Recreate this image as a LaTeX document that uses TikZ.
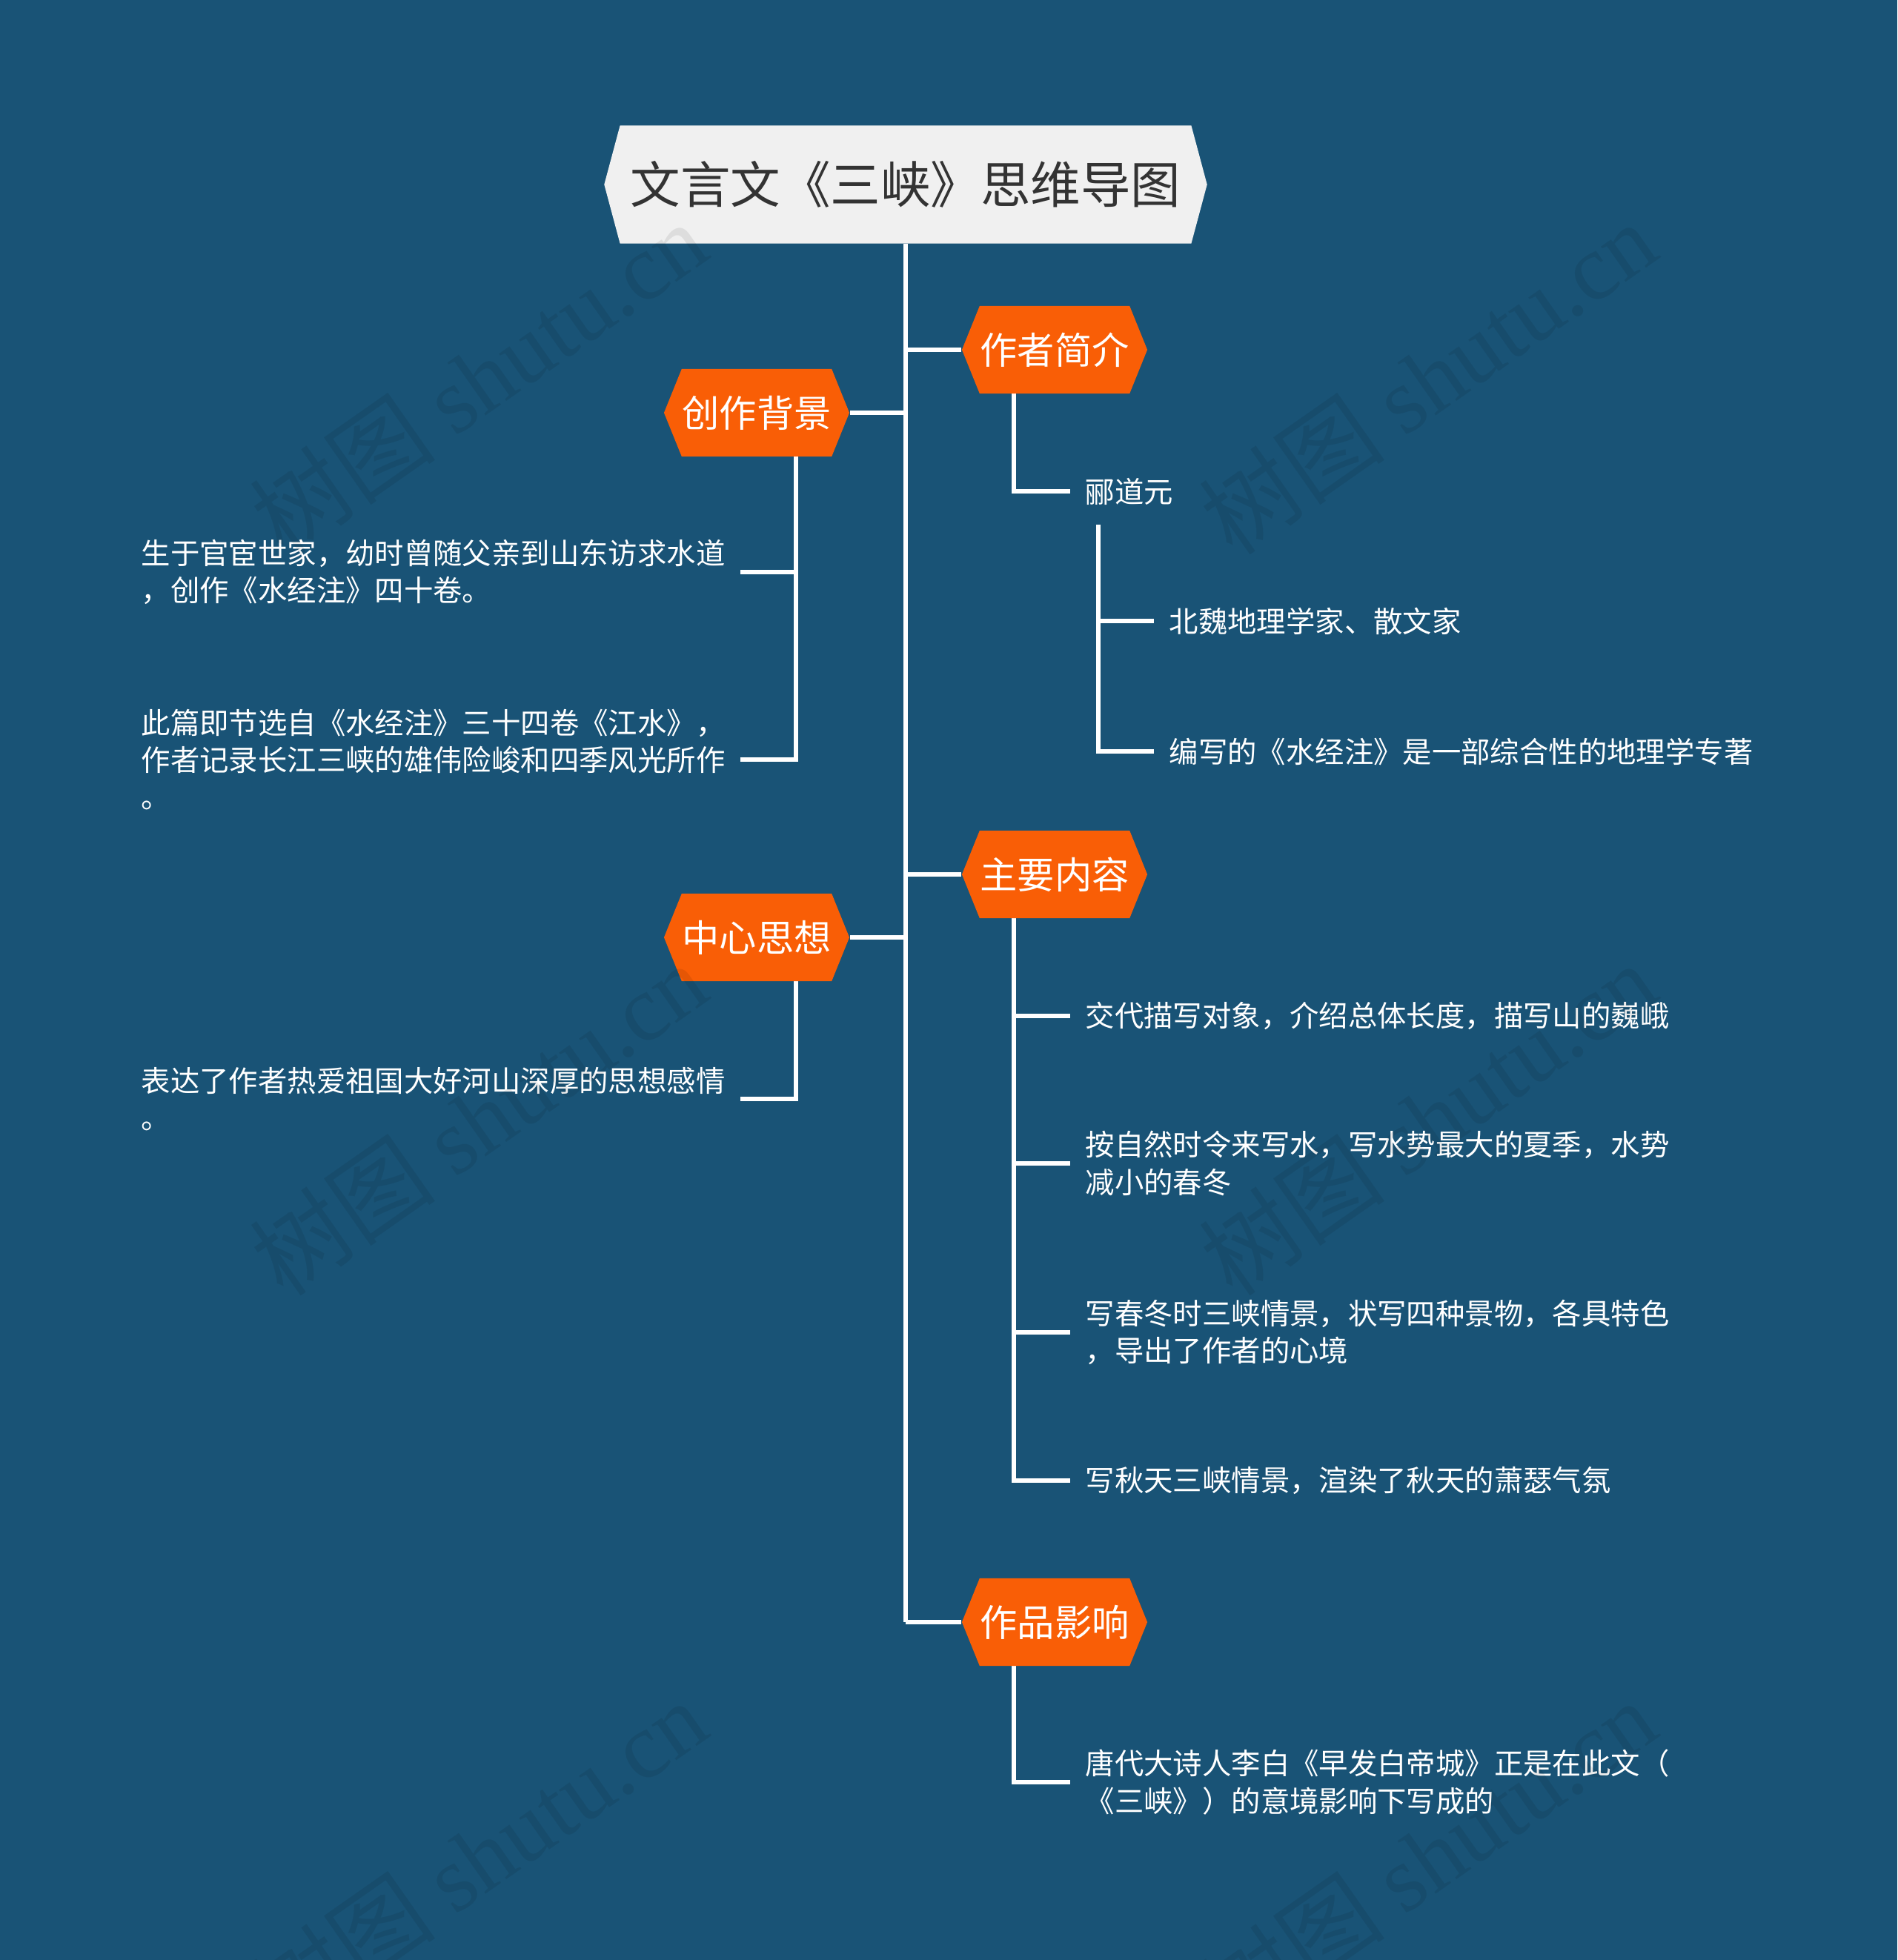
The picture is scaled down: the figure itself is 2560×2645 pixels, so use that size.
\documentclass[tikz,border=0pt]{standalone}
\usepackage{fontspec}
\setmainfont{Noto Sans CJK SC}
\newfontfamily\wmfont{Liberation Serif}
\usepackage{xcolor}
\usepackage{tikz}
\usetikzlibrary{shapes.symbols,backgrounds,calc}
\definecolor{bgblue}{RGB}{25,83,118}
\definecolor{hexorange}{RGB}{249,94,6}
\definecolor{rootfill}{RGB}{240,240,240}
\definecolor{roottext}{RGB}{51,51,51}

\begin{document}
\begin{tikzpicture}[x=0.01cm, y=-0.01cm,
    rootbox/.style={signal, signal to=west and east, signal pointer angle=150, fill=rootfill, text=roottext, minimum width=8.13cm, minimum height=1.59cm, inner sep=0pt, font=\fontsize{19.2}{23}\selectfont},
    hexbox/.style={signal, signal to=west and east, signal pointer angle=136, fill=hexorange, text=white, minimum width=2.5cm, minimum height=1.18cm, inner sep=0pt, font=\fontsize{14.3}{17}\selectfont},
    leaftext/.style={text=white, inner sep=0pt, align=left, font=\fontsize{11.2}{14.3}\selectfont},
    branch/.style={draw=white, line width=1.7pt},
    wmtext/.style={text=black, opacity=0.08, rotate=35, font=\fontsize{36}{40}\selectfont}
]
\useasboundingbox (0,0) rectangle (2560,2645);
% root and topics
\node[rootbox] (root) at (1222,249) {文言文《三峡》思维导图};
\node[hexbox] (zzjj) at (1423,472)  {作者简介};
\node[hexbox] (cjbj) at (1021,557)  {创作背景};
\node[hexbox] (zynr) at (1423,1180) {主要内容};
\node[hexbox] (zxsx) at (1021,1265) {中心思想};
\node[hexbox] (zpyx) at (1423,2189) {作品影响};
% leaves
\node[leaftext, anchor=west] (ldy) at (1464,663)  {郦道元};
\node[leaftext, anchor=west] (bw)  at (1577,838)  {北魏地理学家、散文家};
\node[leaftext, anchor=west] (bx)  at (1577,1014) {编写的《水经注》是一部综合性的地理学专著};
\node[leaftext, anchor=west] (bg1) at (190,772)   {生于官宦世家，幼时曾随父亲到山东访求水道\\，创作《水经注》四十卷。};
\node[leaftext, anchor=west] (bg2) at (190,1025)  {此篇即节选自《水经注》三十四卷《江水》，\\作者记录长江三峡的雄伟险峻和四季风光所作\\。};
\node[leaftext, anchor=west] (sx1) at (190,1483)  {表达了作者热爱祖国大好河山深厚的思想感情\\。};
\node[leaftext, anchor=west] (nr1) at (1464,1371) {交代描写对象，介绍总体长度，描写山的巍峨};
\node[leaftext, anchor=west] (nr2) at (1464,1570) {按自然时令来写水，写水势最大的夏季，水势\\减小的春冬};
\node[leaftext, anchor=west] (nr3) at (1464,1798) {写春冬时三峡情景，状写四种景物，各具特色\\，导出了作者的心境};
\node[leaftext, anchor=west] (nr4) at (1464,1998) {写秋天三峡情景，渲染了秋天的萧瑟气氛};
\node[leaftext, anchor=west] (yx1) at (1464,2405) {唐代大诗人李白《早发白帝城》正是在此文（\\《三峡》）的意境影响下写成的};
% connectors
\begin{scope}[on background layer]
\fill[bgblue] (0,0) rectangle (2560,2645);
\draw[branch] (root.south) -- (root.south |- zpyx.west);
\foreach \t in {zzjj,zynr,zpyx}
    \draw[branch] (root.south |- \t.west) -- (\t.west);
\foreach \t in {cjbj,zxsx}
    \draw[branch] (root.south |- \t.east) -- (\t.east);
\draw[branch] ($(zzjj.west)+(71,0)$) |- ([xshift=-0.2cm]ldy.west);
\foreach \l in {bw,bx}
    \draw[branch] ($(ldy.west)+(18,45)$) |- ([xshift=-0.2cm]\l.west);
\foreach \l in {bg1,bg2}
    \draw[branch] ($(cjbj.east)+(-73,0)$) |- ([xshift=0.2cm]\l.east);
\draw[branch] ($(zxsx.east)+(-73,0)$) |- ([xshift=0.2cm]sx1.east);
\foreach \l in {nr1,nr2,nr3,nr4}
    \draw[branch] ($(zynr.west)+(71,0)$) |- ([xshift=-0.2cm]\l.west);
\draw[branch] ($(zpyx.west)+(71,0)$) |- ([xshift=-0.2cm]yx1.west);
\end{scope}
% watermark
\foreach \wx in {645,1926}
    \foreach \wy in {510,1510,2505}
        \node[wmtext] (wm-\wx-\wy) at (\wx,\wy) {树图 {\wmfont shutu.cn}};
\end{tikzpicture}
\end{document}
